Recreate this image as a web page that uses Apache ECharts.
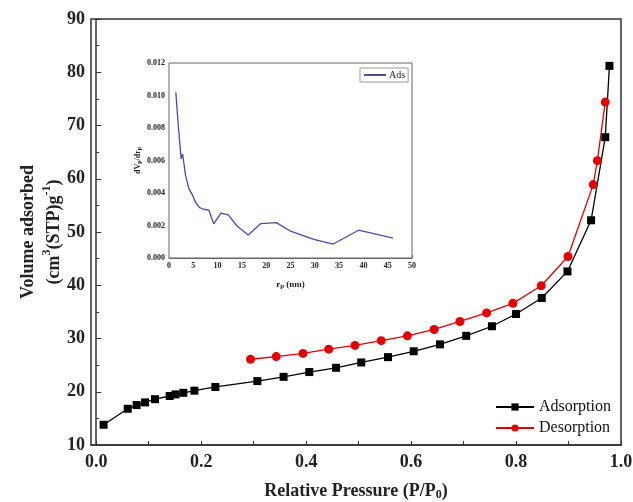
<!DOCTYPE html>
<html>
<head>
<meta charset="utf-8">
<script src="https://cdn.jsdelivr.net/npm/echarts@6/dist/echarts.min.js"></script>
<style>
  html, body { margin: 0; padding: 0; background: #fff; }
  #chart { width: 633px; height: 502px; }
</style>
</head>
<body>
<div id="chart"></div>
<script>
// 吸附等温线数据 (P/P0, cm3/g)
const adsP = [0.014, 0.060, 0.077, 0.093, 0.112, 0.140, 0.151, 0.166, 0.187, 0.227, 0.307, 0.357, 0.406,
  0.457, 0.505, 0.556, 0.605, 0.655, 0.705, 0.754, 0.800, 0.849, 0.898, 0.943, 0.970, 0.978];
const adsV = [13.8, 16.8, 17.5, 18.0, 18.6, 19.2, 19.5, 19.8, 20.2, 20.9, 22.0, 22.8, 23.7,
  24.5, 25.5, 26.5, 27.6, 28.9, 30.5, 32.3, 34.6, 37.6, 42.6, 52.2, 67.8, 81.2];
// 脱附
const desP = [0.970, 0.955, 0.947, 0.899, 0.848, 0.794, 0.744, 0.693, 0.644, 0.593, 0.543, 0.493, 0.443, 0.394, 0.343, 0.294];
const desV = [74.4, 63.4, 58.9, 45.4, 39.9, 36.6, 34.8, 33.2, 31.7, 30.5, 29.6, 28.7, 28.0, 27.2, 26.6, 26.1];
// 孔径分布 (小图)
const rp = [1.4, 1.9, 2.5, 2.8, 3.4, 4.1, 4.8, 5.5, 6.3, 7.1, 8.2, 9.2, 10.7, 12.2, 14.0, 16.3, 18.9, 22.1, 25.0, 29.8, 33.8, 39.0, 46.1];
const dvdr = [0.0102, 0.0082, 0.0061, 0.0064, 0.0051, 0.00425, 0.0039, 0.0034, 0.0031, 0.0030, 0.00295, 0.0021,
  0.00276, 0.00266, 0.00197, 0.00142, 0.00212, 0.00218, 0.00165, 0.00115, 0.00086, 0.00171, 0.00123];
// 刻度
const xLabelVals = [0, 0.2, 0.4, 0.6, 0.8, 1.0];
const xTickVals = [0, 0.1, 0.2, 0.3, 0.4, 0.5, 0.6, 0.7, 0.8, 0.9, 1.0];

const serif = "'Liberation Serif', 'Times New Roman', serif";

const chart = echarts.init(document.getElementById('chart'));

const option = {
  animation: false,
  backgroundColor: '#fff',
  textStyle: { fontFamily: serif },
  grid: [
    { left: 91, top: 19, right: 12, bottom: 57, outerBoundsMode: 'none', containLabel: false,
      show: true, borderColor: '#333', borderWidth: 1.5, backgroundColor: 'transparent' },
    { left: 169, top: 63, width: 243, height: 195, outerBoundsMode: 'none', containLabel: false,
      show: true, borderColor: '#666', borderWidth: 1, backgroundColor: '#fff', z: 5 }
  ],
  legend: [
    {
      data: ['Adsorption', 'Desorption'],
      orient: 'vertical',
      left: 490, top: 394,
      itemWidth: 38, itemHeight: 9, itemGap: 5,
      textStyle: { fontFamily: serif, fontSize: 16, color: '#111' }
    },
    {
      data: ['Ads'],
      left: 360, top: 68,
      padding: [2, 3, 2, 3],
      borderColor: '#999', borderWidth: 1,
      itemWidth: 22, itemHeight: 2, itemGap: 4,
      textStyle: { fontFamily: serif, fontSize: 10, color: '#222', padding: [0, 0, 0, -2] },
      z: 10
    }
  ],
  xAxis: [
    {
      type: 'value', gridIndex: 0,
      min: -0.01, max: 1.0,
      axisLine: { show: true, lineStyle: { color: '#333', width: 1.5 } },
      axisTick: { show: true, inside: true, length: 4, customValues: xTickVals, lineStyle: { color: '#333' } },
      axisLabel: { customValues: xLabelVals, margin: 8, fontFamily: serif, fontSize: 18, fontWeight: 'bold', color: '#222',
        formatter: v => v.toFixed(1) },
      splitLine: { show: false },
      name: '{b|Relative Pressure (P/P}{sub|0}{b|)}',
      nameLocation: 'middle', nameGap: 36, nameMoveOverlap: false,
      nameTextStyle: {
        rich: {
          b: { fontFamily: serif, fontSize: 18, fontWeight: 'bold', color: '#222' },
          sub: { fontFamily: serif, fontSize: 12, fontWeight: 'bold', color: '#222', verticalAlign: 'bottom', padding: [8, 0, 0, 0] }
        }
      }
    },
    {
      type: 'value', gridIndex: 1,
      min: 0, max: 50, interval: 5,
      axisLine: { show: true, lineStyle: { color: '#666', width: 1 } },
      axisTick: { show: true, inside: true, length: 3, lineStyle: { color: '#666' } },
      minorTick: { show: true, splitNumber: 2, length: 2, lineStyle: { color: '#666' } },
      axisLabel: { margin: 4, fontFamily: serif, fontSize: 8, fontWeight: 'bold', color: '#222' },
      splitLine: { show: false },
      name: '{b|r}{sub|p}{b| (nm)}',
      nameLocation: 'middle', nameGap: 21, nameMoveOverlap: false,
      nameTextStyle: {
        rich: {
          b: { fontFamily: serif, fontSize: 9, fontWeight: 'bold', color: '#222' },
          sub: { fontFamily: serif, fontSize: 7, fontWeight: 'bold', color: '#222', verticalAlign: 'bottom', padding: [4, 0, 0, 0] }
        }
      }
    }
  ],
  yAxis: [
    {
      type: 'value', gridIndex: 0,
      min: 10, max: 90, interval: 10,
      axisLine: { show: true, lineStyle: { color: '#333', width: 1.5 } },
      axisTick: { show: true, inside: true, length: 5, lineStyle: { color: '#333' } },
      minorTick: { show: true, splitNumber: 2, length: 3, lineStyle: { color: '#333' } },
      axisLabel: { margin: 6, fontFamily: serif, fontSize: 18, fontWeight: 'bold', color: '#222' },
      splitLine: { show: false },
      name: '{b|Volume adsorbed}\n{b|(cm}{sup|3}{b|(STP)g}{sup|-1}{b|)}',
      nameLocation: 'middle', nameGap: 24, nameRotate: 90, nameMoveOverlap: false,
      nameTextStyle: {
        lineHeight: 26,
        rich: {
          b: { fontFamily: serif, fontSize: 18, fontWeight: 'bold', color: '#222', lineHeight: 26 },
          sup: { fontFamily: serif, fontSize: 12, fontWeight: 'bold', color: '#222', verticalAlign: 'top', padding: [0, 0, 8, 0], lineHeight: 26 }
        }
      }
    },
    {
      type: 'value', gridIndex: 1,
      min: 0, max: 0.012, interval: 0.002,
      axisLine: { show: true, lineStyle: { color: '#666', width: 1 } },
      axisTick: { show: true, inside: true, length: 3, lineStyle: { color: '#666' } },
      minorTick: { show: true, splitNumber: 2, length: 2, lineStyle: { color: '#666' } },
      axisLabel: { margin: 4, fontFamily: serif, fontSize: 8, fontWeight: 'bold', color: '#222',
        formatter: v => v.toFixed(3) },
      splitLine: { show: false },
      name: '{b|dV}{sub|p}{b|/dr}{sub|p}',
      nameLocation: 'middle', nameGap: 27, nameRotate: 90, nameMoveOverlap: false,
      nameTextStyle: {
        rich: {
          b: { fontFamily: serif, fontSize: 8, fontWeight: 'bold', color: '#222' },
          sub: { fontFamily: serif, fontSize: 6, fontWeight: 'bold', color: '#222', verticalAlign: 'bottom', padding: [3, 0, 0, 0] }
        }
      }
    }
  ],
  series: [
    {
      name: 'Adsorption', type: 'line',
      xAxisIndex: 0, yAxisIndex: 0,
      data: adsP.map((p, i) => [p, adsV[i]]),
      symbol: 'rect', symbolSize: 8,
      itemStyle: { color: '#000' },
      lineStyle: { color: '#000', width: 1.3 },
      z: 3
    },
    {
      name: 'Desorption', type: 'line',
      xAxisIndex: 0, yAxisIndex: 0,
      data: desP.map((p, i) => [p, desV[i]]),
      symbol: 'circle', symbolSize: 9,
      itemStyle: { color: '#e00000' },
      lineStyle: { color: '#e00000', width: 1.3 },
      z: 4
    },
    {
      name: 'Ads', type: 'line',
      xAxisIndex: 1, yAxisIndex: 1,
      data: rp.map((r, i) => [r, dvdr[i]]),
      symbol: 'none',
      itemStyle: { color: '#4a4aa8' },
      lineStyle: { color: '#4a4aa8', width: 1.3 },
      z: 6
    }
  ]
};

chart.setOption(option);
</script>
</body>
</html>
